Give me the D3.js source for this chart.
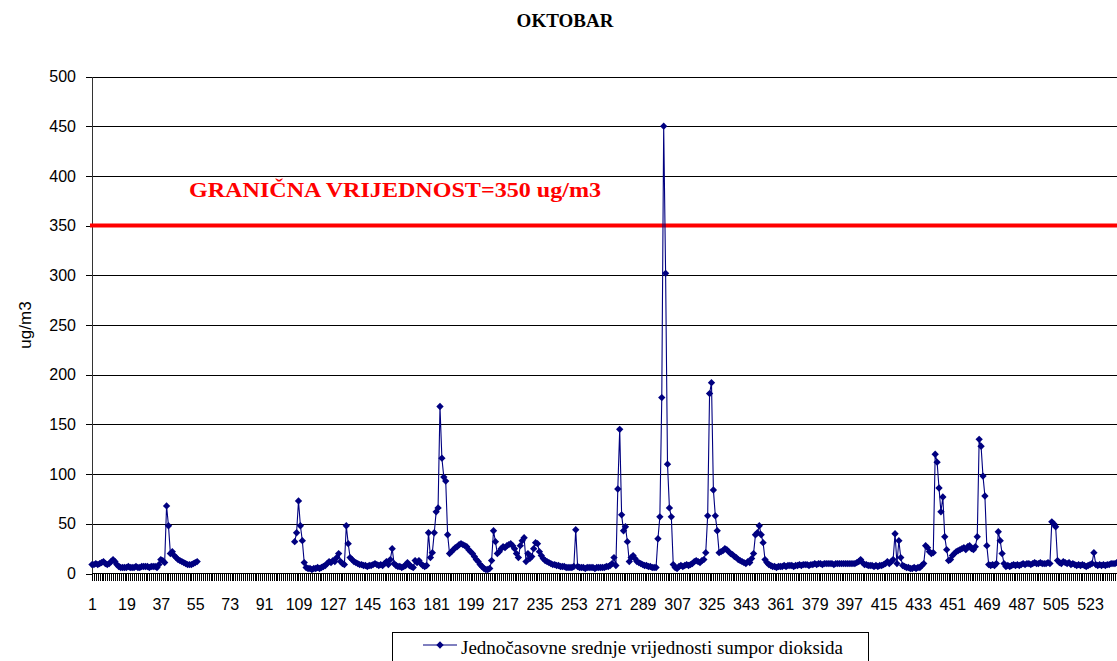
<!DOCTYPE html>
<html>
<head>
<meta charset="utf-8">
<script src="https://d3js.org/d3.v7.min.js"></script>
<style>
body {
  margin: 0;
  background: #fff;
}
svg {
  display: block;
}
.axis text {
  font-family: "Liberation Sans", Arial, sans-serif;
  font-size: 16px;
  fill: #000;
}
.grid line {
  stroke: #000;
}
</style>
</head>
<body>
<div class="chart"></div>

<script>

// hourly SO2 values (ug/m3), one row per day, null = no measurement
var so2 = [
  9,9,10,9,10,11,12,10,9,10,12,14,12,9,7,6,6,6,6,7,6,6,6,7,
  6,6,7,7,7,7,6,7,7,7,6,9,14,13,11,68,48,20,22,18,16,14,13,12,
  11,10,9,9,9,10,11,12,null,null,null,null,null,null,null,null,null,null,null,null,null,null,null,null,
  null,null,null,null,null,null,null,null,null,null,null,null,null,null,null,null,null,null,null,null,null,null,null,null,
  null,null,null,null,null,null,null,null,null,null,32,41,73,48,33,11,6,5,5,4,5,5,6,5,
  6,7,8,10,12,11,13,12,16,20,12,10,9,48,30,16,14,12,11,10,9,9,8,8,
  7,8,8,9,10,9,8,9,8,10,12,9,14,25,10,8,7,7,6,7,8,11,8,7,
  6,13,11,13,10,8,7,8,41,16,21,41,62,66,168,116,97,93,39,20,22,24,26,27,
  29,30,29,28,27,24,22,20,17,14,12,9,7,5,4,4,5,13,43,32,20,22,25,27,
  26,28,29,30,28,25,20,16,28,33,36,12,20,15,17,25,31,30,22,18,15,13,12,11,
  10,9,9,8,8,7,7,7,6,6,6,6,7,44,7,6,6,6,5,6,6,6,6,5,
  6,6,6,6,6,7,7,8,10,16,8,85,145,59,43,47,32,12,16,18,15,12,11,10,
  9,8,8,7,7,6,6,6,35,57,177,450,302,110,66,57,9,6,5,7,8,7,8,9,
  8,9,10,12,13,12,11,13,14,21,58,181,192,84,58,43,21,22,23,25,24,22,20,19,
  17,16,14,13,12,11,10,12,11,15,20,39,41,48,39,31,14,11,9,8,7,7,6,7,
  7,7,8,7,8,8,8,7,8,8,9,8,9,9,9,8,9,9,10,9,10,10,9,10,
  10,10,10,10,9,10,10,10,10,10,10,10,10,10,10,10,11,12,14,11,9,9,8,8,
  8,7,8,7,8,8,9,10,12,10,12,14,40,10,33,16,8,7,6,6,5,5,6,5,
  6,6,8,10,28,26,22,20,21,120,112,86,62,77,37,24,13,14,18,20,22,23,24,25,
  26,24,27,28,25,24,27,37,135,128,98,78,28,9,8,9,8,10,42,33,20,10,7,8,
  7,8,9,8,9,8,9,10,9,10,10,9,10,11,10,10,11,10,10,10,11,10,52,50,
  47,13,11,10,12,11,10,11,9,10,9,8,9,8,9,8,7,8,9,10,21,9,8,9,
  8,9,8,9,9,10,10,10,11,10
];

// hour numbers along the x axis
var hours = so2.map(function(d, i) { return i + 1; });

var xTickLabels = [1,19,37,55,73,91,109,127,145,163,181,199,217,235,253,271,289,307,325,343,361,379,397,415,433,451,469,487,505,523];
var yTicks = [0,50,100,150,200,250,300,350,400,450,500];
var limitValue = 350;

var width = 1117,
    height = 661,
    left = 92,
    step = 1.912;

var svg = d3.select(".chart")
  .append("svg")
  .attr("width", width)
  .attr("height", height);

var x = d3.scaleLinear()
  .domain([1, hours.length])
  .range([left, left + (hours.length - 1) * step]);

var y = d3.scaleLinear()
  .domain([0, 500])
  .range([573.5, 76.5]);

// horizontal gridlines
svg.append("g")
  .attr("class", "grid")
  .attr("transform", "translate(" + left + ",0)")
  .call(d3.axisLeft(y).tickValues(yTicks.slice(1)).tickSize(-(width - left)).tickFormat(""))
  .call(function(g) { g.select(".domain").remove(); })
  .selectAll("line").attr("shape-rendering", "crispEdges");

// y axis
svg.append("g")
  .attr("class", "axis")
  .attr("transform", "translate(" + left + ",0)")
  .call(d3.axisLeft(y).tickValues(yTicks).tickSize(6).tickSizeOuter(0).tickPadding(10))
  .call(function(g) {
    g.select(".domain").attr("stroke", "#333");
    g.selectAll("line").attr("shape-rendering", "crispEdges");
  });

// x axis: a tick for every hour
svg.append("g")
  .attr("class", "axis")
  .attr("transform", "translate(0," + y(0) + ")")
  .call(d3.axisBottom(x).tickValues(hours).tickSize(7).tickSizeOuter(0).tickFormat(""))
  .call(function(g) {
    g.select(".domain").attr("stroke", "#000").attr("d", "M" + left + ",0H" + width);
    g.selectAll(".tick line").attr("shape-rendering", "crispEdges");
  });

// x labels every 18 hours
svg.append("g")
  .attr("class", "axis")
  .attr("transform", "translate(0," + y(0) + ")")
  .call(d3.axisBottom(x).tickValues(xTickLabels).tickSize(0).tickPadding(25))
  .call(function(g) { g.select(".domain").remove(); });

// limit line
svg.append("line")
  .attr("x1", left - 2)
  .attr("x2", width)
  .attr("y1", y(limitValue))
  .attr("y2", y(limitValue))
  .attr("stroke", "#ff0000")
  .attr("stroke-width", 4);

svg.append("text")
  .attr("x", 189)
  .attr("y", 197)
  .attr("fill", "#ff0000")
  .attr("textLength", 412)
  .attr("lengthAdjust", "spacingAndGlyphs")
  .style("font-family", "'Liberation Serif', 'Times New Roman', serif")
  .style("font-weight", "bold")
  .style("font-size", "21px")
  .text("GRANIČNA VRIJEDNOST=" + limitValue + " ug/m3");

// series line with gaps
var line = d3.line()
  .defined(function(d) { return d != null; })
  .x(function(d, i) { return x(hours[i]); })
  .y(function(d) { return y(d); });

svg.append("path")
  .datum(so2)
  .attr("fill", "none")
  .attr("stroke", "#000080")
  .attr("stroke-width", 1.1)
  .attr("d", line);

var marker = d3.symbol().type(d3.symbolSquare).size(27);

svg.append("g")
  .selectAll("path")
  .data(so2.map(function(d, i) { return {h: hours[i], v: d}; }).filter(function(d) { return d.v != null; }))
  .enter().append("path")
  .attr("d", marker)
  .attr("fill", "#000080")
  .attr("transform", function(d) { return "translate(" + x(d.h) + "," + y(d.v) + ") rotate(45)"; });

// title
svg.append("text")
  .attr("x", 565)
  .attr("y", 27)
  .attr("text-anchor", "middle")
  .style("font-family", "'Liberation Serif', 'Times New Roman', serif")
  .style("font-weight", "bold")
  .style("font-size", "19px")
  .text("OKTOBAR");

// y axis title
svg.append("text")
  .attr("transform", "translate(31,325) rotate(-90)")
  .attr("text-anchor", "middle")
  .style("font-family", "'Liberation Sans', Arial, sans-serif")
  .style("font-size", "17px")
  .text("ug/m3");

// legend
var legend = svg.append("g");

legend.append("rect")
  .attr("x", 392.5)
  .attr("y", 632.5)
  .attr("width", 476)
  .attr("height", 40)
  .attr("fill", "none")
  .attr("stroke", "#000");

legend.append("line")
  .attr("x1", 423)
  .attr("x2", 457)
  .attr("y1", 645)
  .attr("y2", 645)
  .attr("stroke", "#000080")
  .attr("stroke-width", 1.1);

legend.append("path")
  .attr("d", marker)
  .attr("fill", "#000080")
  .attr("transform", "translate(440,645) rotate(45)");

legend.append("text")
  .attr("x", 461)
  .attr("y", 654)
  .style("font-family", "'Liberation Serif', 'Times New Roman', serif")
  .style("font-size", "19px")
  .text("Jednočasovne srednje vrijednosti sumpor dioksida");

</script>
</body>
</html>
